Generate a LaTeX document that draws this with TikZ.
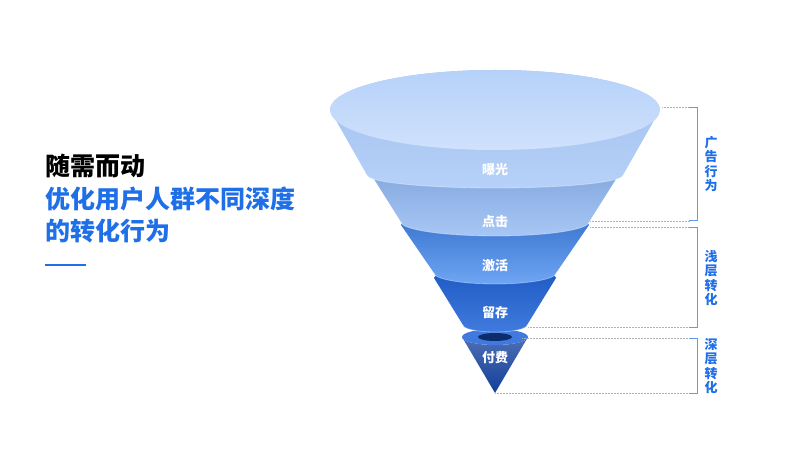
\documentclass[tikz,border=0pt]{standalone}
\usepackage{fontspec}
\setmainfont{Noto Sans CJK SC}
\usetikzlibrary{positioning}
\definecolor{fblue}{HTML}{1E6FE8}
\definecolor{cA}{HTML}{A9C9F8}
\definecolor{cB}{HTML}{8AB4F2}
\definecolor{cC}{HTML}{3F87F0}
\definecolor{cD}{HTML}{1F63D8}
\definecolor{cE}{HTML}{123F9A}
\tikzset{
  lab/.style={white, font=\bfseries\fontsize{13}{13}\selectfont},
  side/.style={fblue, font=\bfseries\fontsize{13}{14.5}\selectfont, align=center, inner sep=0pt},
  title/.style={anchor=west, font=\bfseries\fontsize{25}{27}\selectfont, inner sep=0pt},
  brk/.style={fblue!70, line width=0.8pt},
  guide/.style={black!30, densely dotted, line width=0.5pt}
}
% band: top y, top half width, top ry, bottom y, bottom half width, bottom ry, colours
\newcommand{\band}[8]{%
  \shade[top color=#7, bottom color=#8]
    (400-#2,450-#1) -- (400-#5,450-#4)
    arc[start angle=180, end angle=360, x radius=#5, y radius=#6]
    -- (400+#2,450-#1)
    arc[start angle=0, end angle=180, x radius=#2, y radius=#3] -- cycle;
  \draw[white, opacity=0.35, line width=0.8pt] (400-#5,450-#4)
    arc[start angle=180, end angle=360, x radius=#5, y radius=#6];}
\begin{document}
\begin{tikzpicture}[x=1pt,y=1pt]
  \useasboundingbox (0,0) rectangle (800,450);
  \begin{scope}[xshift=95pt]
    % bottom tip
    \shade[top color=cE!75, bottom color=cE] (400-33,450-337) -- (400,450-393) -- (400+33,450-337)
      arc[start angle=0, end angle=-180, x radius=33, y radius=8] -- cycle;
    \fill[cD!85] (400,450-337) ellipse[x radius=33, y radius=8];
    \fill[cE!70!black] (400,450-337) ellipse[x radius=17, y radius=4];
    \band{278}{61}{10}{325}{32}{7}{cD!90!black}{cD!85}
    \band{225}{94}{12}{273}{61}{11}{cC!85!black}{cC!75}
    \band{168}{128}{11}{222}{94}{14}{cB!90!black}{cB!75}
    \band{110}{165}{40}{175}{128}{13}{cA!95!black}{cA!85}
    \shade[top color=cA!85, bottom color=cA!55!white] (400,450-110) ellipse[x radius=165, y radius=40];
    \node[lab] (bg) at (400,450-170) {曝光};
    \node[lab] (dj) at (400,450-222) {点击};
    \node[lab] (jh) at (400,450-266) {激活};
    \node[lab] (lc) at (400,450-313) {留存};
    \node[lab] (ff) at (400,450-358) {付费};
  \end{scope}
  % guides
  \coordinate (g1) at (662,450-107);
  \coordinate (g2) at (590,450-221);
  \coordinate (g3) at (590,450-227);
  \coordinate (g4) at (528,450-327);
  \coordinate (g5) at (522,450-338);
  \coordinate (g6) at (495,450-393);
  \foreach \g in {g1,g2,g3,g4,g5,g6}
    \draw[guide] (\g) -- (690,0 |- \g);
  % brackets
  \draw[brk] (689,450-107) -- (697,450-107) -- (697,450-220) -- (689,450-220);
  \draw[brk] (689,450-227) -- (697,450-227) -- (697,450-327) -- (689,450-327);
  \draw[brk] (689,450-338) -- (697,450-338) -- (697,450-393) -- (689,450-393);
  \node[side] (s1) at (711,450-164) {广\\告\\行\\为};
  \node[side] (s2) at (711,450-278) {浅\\层\\转\\化};
  \node[side] (s3) at (711,450-366) {深\\层\\转\\化};
  % left title
  \node[title] (t1) at (45,450-166) {随需而动};
  \node[title, fblue] (t2) at (45,450-199) {优化用户人群不同深度};
  \node[title, fblue] (t3) at (45,450-231) {的转化行为};
  \draw[fblue, line width=1.5pt] (45,450-265) -- (86,450-265);
\end{tikzpicture}
\end{document}
